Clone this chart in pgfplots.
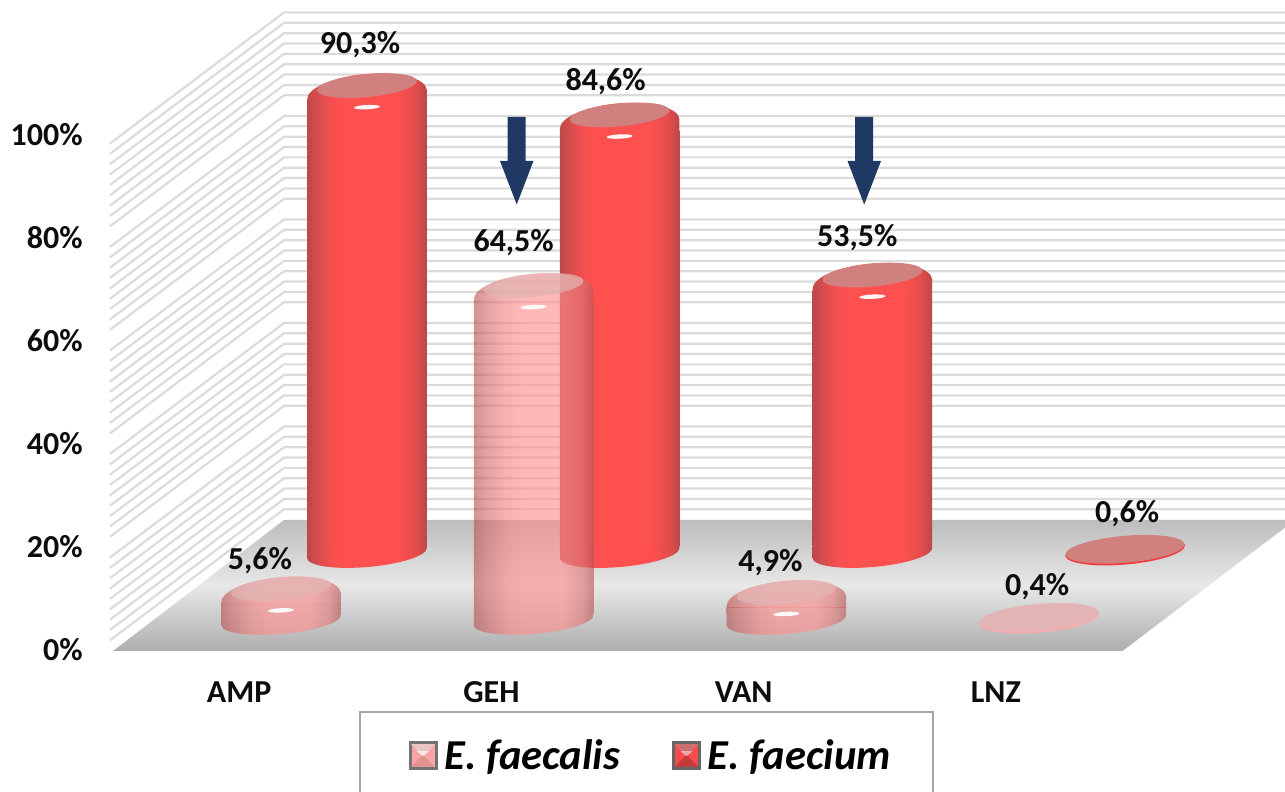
\documentclass[border=0pt]{standalone}
\usepackage{fontspec}
\setmainfont{Carlito}
\usepackage{pgfplots}
\usepackage{pgfplotstable}
\pgfplotsset{compat=1.18}
\pgfdeclarehorizontalshading{cylR}{100bp}{rgb(0bp)=(.74,.28,.28); rgb(25bp)=(.74,.28,.28); rgb(29bp)=(.83,.30,.30); rgb(35bp)=(.96,.31,.31); rgb(40bp)=(1,.315,.315); rgb(62bp)=(1,.315,.315); rgb(70bp)=(.90,.30,.30); rgb(75bp)=(.74,.28,.28); rgb(100bp)=(.74,.28,.28)}
\pgfdeclarehorizontalshading{cylP}{100bp}{rgb(0bp)=(.71,.33,.33); rgb(25bp)=(.71,.33,.33); rgb(30bp)=(.82,.42,.42); rgb(38bp)=(.95,.52,.52); rgb(45bp)=(1,.56,.56); rgb(62bp)=(1,.56,.56); rgb(70bp)=(.88,.47,.47); rgb(75bp)=(.71,.33,.33); rgb(100bp)=(.71,.33,.33)}
\definecolor{topR}{RGB}{209,128,128}
\definecolor{topP}{RGB}{226,180,180}
\definecolor{navy}{RGB}{31,56,100}
% marks: #1 name, #2 shading, #3 top colour, #4 body opacity, #5 top opacity
\newcommand\mkcyl[5]{%
\pgfdeclareplotmark{base#1}{%
  \begin{pgfscope}\pgfsetfillopacity{#4}%
  \pgfpathmoveto{\pgfqpoint{-29.9pt}{3.1pt}}%
  \pgfpathlineto{\pgfqpoint{-29.9pt}{-2.6pt}}%
  \pgfpatharcaxes{180}{360}{\pgfqpoint{29.9pt}{2.6pt}}{\pgfqpoint{-0.6pt}{6.97pt}}%
  \pgfpathlineto{\pgfqpoint{29.9pt}{3.1pt}}%
  \pgfpathclose
  \pgfshadepath{#2}{0}\pgfusepath{discard}%
  \end{pgfscope}}%
\pgfdeclareplotmark{top#1}{%
  \begin{pgfscope}\pgfsetfillopacity{#4}%
  \pgfpathmoveto{\pgfqpoint{-29.9pt}{-6.6pt}}%
  \pgfpathlineto{\pgfqpoint{-29.9pt}{-6.1pt}}%
  \pgfpatharcaxes{180}{0}{\pgfqpoint{29.9pt}{2.6pt}}{\pgfqpoint{-0.9pt}{10.45pt}}%
  \pgfpathlineto{\pgfqpoint{29.9pt}{-6.6pt}}%
  \pgfpathclose
  \pgfshadepath{#2}{0}\pgfusepath{discard}%
  \end{pgfscope}%
  \begin{pgfscope}\pgfsetfillopacity{#5}\pgfsetfillcolor{#3}%
  \pgfpathellipse{\pgfqpoint{0pt}{1.2pt}}{\pgfqpoint{24.9pt}{2.4pt}}{\pgfqpoint{-0.55pt}{5.7pt}}%
  \pgfusepath{fill}%
  \end{pgfscope}%
  \begin{pgfscope}\pgfsetfillcolor{white}\pgfsetfillopacity{.95}%
  \pgfpathellipse{\pgfqpoint{0pt}{-9.6pt}}{\pgfqpoint{6.5pt}{0.3pt}}{\pgfqpoint{0pt}{1.1pt}}%
  \pgfusepath{fill}%
  \end{pgfscope}}%
\pgfdeclareplotmark{disk#1}{%
  \begin{pgfscope}\pgfsetfillcolor{#1rim}%
  \pgfpathellipse{\pgfqpoint{0pt}{-0.3pt}}{\pgfqpoint{29.9pt}{2.6pt}}{\pgfqpoint{-0.6pt}{6.97pt}}%
  \pgfusepath{fill}%
  \end{pgfscope}%
  \begin{pgfscope}\pgfsetfillcolor{#3}%
  \pgfpathellipse{\pgfqpoint{0pt}{0.3pt}}{\pgfqpoint{29.7pt}{2.6pt}}{\pgfqpoint{-0.6pt}{6.7pt}}%
  \pgfusepath{fill}%
  \end{pgfscope}}}
\definecolor{Rrim}{RGB}{240,60,60}
\definecolor{Prim}{RGB}{250,170,170}
\mkcyl{R}{cylR}{topR}{1}{1}
\mkcyl{P}{cylP}{topP}{.63}{.7}
\pgfplotstableread{
x y dx dy
0 90.3 -3.5 21.5
1 84.6 -7 18
2 53.5 -7.5 19.75
3 0.6 1 18
}\faecium
\pgfplotstableread{
x y dx dy
0 5.6 -10.5 15.5
1 64.5 -10 22.5
2 4.9 -8 16
3 0.4 -1 15.5
}\faecalis
\pgfplotsset{
  cylaxis/.style={scale only axis, width=505.4pt, height=247.8pt, anchor=south west,
    xmin=-0.5, xmax=3.5, ymin=3.77, ymax=100, hide axis, clip=false,
    /pgf/number format/assume math mode=true},
  vallabels/.style={only marks, mark=none, point meta=y,
    visualization depends on={\thisrow{dx}\as\dxv},
    visualization depends on={\thisrow{dy}\as\dyv},
    nodes near coords={\pgfmathprintnumber[use comma,fixed,fixed zerofill,precision=1,assume math mode=true]{\pgfplotspointmeta}\%},
    every node near coord/.append style={anchor=center, inner sep=0pt, xshift=\dxv pt, yshift=\dyv pt,
      font=\fontsize{16}{19}\selectfont\bfseries, text=black!95}},
  cylbar/.style={ybar, bar shift=0pt, bar width=59.8pt, draw=none, yshift=-6.6pt,
    restrict y to domain=3.77:100}
}
\begin{document}
\begin{tikzpicture}
\path[use as bounding box] (0,0) rectangle (642.5pt,396pt);
\begin{scope}[x=0.5pt,y=-0.5pt,yshift=396pt]
  % walls
  \foreach \k in {0,...,48}{
    \pgfmathtruncatemacro\m{mod(\k,10)}
    \ifnum\m=9\else
      \pgfmathsetmacro\yb{509.3-10.35*\k}
      \draw[line width=1.1pt,color=black!14] (1285,\yb) -- (284,\yb) -- (110,\yb+131);
    \fi
  }
  % floor
  \shade[top color=black!26, bottom color=black!32, middle color=black!9]
     (113,651) -- (284,520) -- (1295,520) -- (1122.5,651) -- cycle;
  % legend box
  \draw[line width=1pt,color=black!35] (360,800) -- (360,712.5) -- (933,712.5) -- (933,800);
\end{scope}
% frame axis
\begin{axis}[scale only axis, width=504.5pt, height=257.5pt, anchor=south west, at={(56.5pt,71pt)},
  xmin=-0.5, xmax=3.5, ymin=0, ymax=100, clip=false,
  axis line style={draw=none}, major tick length=0pt, tick style={draw=none},
  xtick={0,1,2,3}, xticklabels={AMP,GEH,VAN,LNZ},
  ytick={0,20,40,60,80,100}, yticklabels={0\%,20\%,40\%,60\%,80\%,100\%},
  tick label style={font=\fontsize{16}{19}\selectfont\bfseries, text=black!95, inner sep=0pt},
  xticklabel style={yshift=-15.5pt},
  yticklabel style={xshift=-15pt},
  legend columns=2,
  legend cell align=left,
  legend style={at={(0.534,-0.205)}, anchor=center, draw=none, fill=none, inner sep=0pt,
    font=\fontsize{21.3}{25}\selectfont\bfseries\itshape,
    /tikz/every odd column/.append style={column sep=1.5pt},
    /tikz/every even column/.append style={column sep=24pt}},
]
\addlegendimage{legend image code/.code={
   \fill[black!55] (0pt,-7pt) rectangle (14pt,7pt);
   \fill[color={rgb,255:red,250;green,165;blue,165}] (1.5pt,-5.5pt) rectangle (12.5pt,5.5pt);
   \fill[color={rgb,255:red,235;green,195;blue,195}] (1.5pt,5.5pt) -- (12.5pt,5.5pt) -- (7pt,0pt) -- cycle;
   \fill[color={rgb,255:red,228;green,145;blue,145}] (1.5pt,-5.5pt) -- (12.5pt,-5.5pt) -- (7pt,0pt) -- cycle;
   \fill[white,opacity=.6] (4.5pt,2pt) -- (9.5pt,2pt) -- (7pt,0pt) -- cycle;
}}
\addlegendentry{E. faecalis}
\addlegendimage{legend image code/.code={
   \fill[black!60] (0pt,-7pt) rectangle (14pt,7pt);
   \fill[color={rgb,255:red,245;green,75;blue,75}] (1.5pt,-5.5pt) rectangle (12.5pt,5.5pt);
   \fill[color={rgb,255:red,205;green,110;blue,110}] (1.5pt,5.5pt) -- (12.5pt,5.5pt) -- (7pt,0pt) -- cycle;
   \fill[color={rgb,255:red,195;green,60;blue,60}] (1.5pt,-5.5pt) -- (12.5pt,-5.5pt) -- (7pt,0pt) -- cycle;
   \fill[white,opacity=.4] (4.5pt,2pt) -- (9.5pt,2pt) -- (7pt,0pt) -- cycle;
}}
\addlegendentry{E. faecium}
\end{axis}
% E. faecium (back row)
\begin{axis}[cylaxis, at={(120.3pt,129.2pt)}]
\addplot[only marks, mark=baseR] coordinates {(0,0) (1,0) (2,0)};
\pgfplotsinvokeforeach{0,1,2}{
  \addplot[cylbar, shading=cylR, restrict x to domain=#1:#1] table[x=x,y=y] {\faecium};
}
\addplot[only marks, mark=topR, restrict y to domain=3.77:100] table[x=x,y=y] {\faecium};
\addplot[only marks, mark=diskR] coordinates {(3,0.6)};
\addplot[vallabels] table[x=x,y=y] {\faecium};
\end{axis}
% E. faecalis (front row)
\begin{axis}[cylaxis, at={(77.3pt,95.7pt)}]
\addplot[only marks, mark=baseP] coordinates {(0,0) (1,0) (2,0)};
\pgfplotsinvokeforeach{0,1,2}{
  \addplot[cylbar, shading=cylP, opacity=.63, restrict x to domain=#1:#1] table[x=x,y=y] {\faecalis};
}
\addplot[only marks, mark=topP, restrict y to domain=3.77:100] table[x=x,y=y] {\faecalis};
\addplot[only marks, mark=diskP] coordinates {(3,0.4)};
\addplot[vallabels] table[x=x,y=y] {\faecalis};
\end{axis}
\begin{scope}[x=0.5pt,y=-0.5pt,yshift=396pt]
  \foreach \s in {0,347.5}{
    \fill[navy,shift={(\s,0)}] (507.7,117) -- (525.5,117) -- (525.5,161) -- (533.5,161) -- (516.7,204.5) -- (500,161) -- (507.7,161) -- cycle;
  }
\end{scope}
\end{tikzpicture}
\end{document}
